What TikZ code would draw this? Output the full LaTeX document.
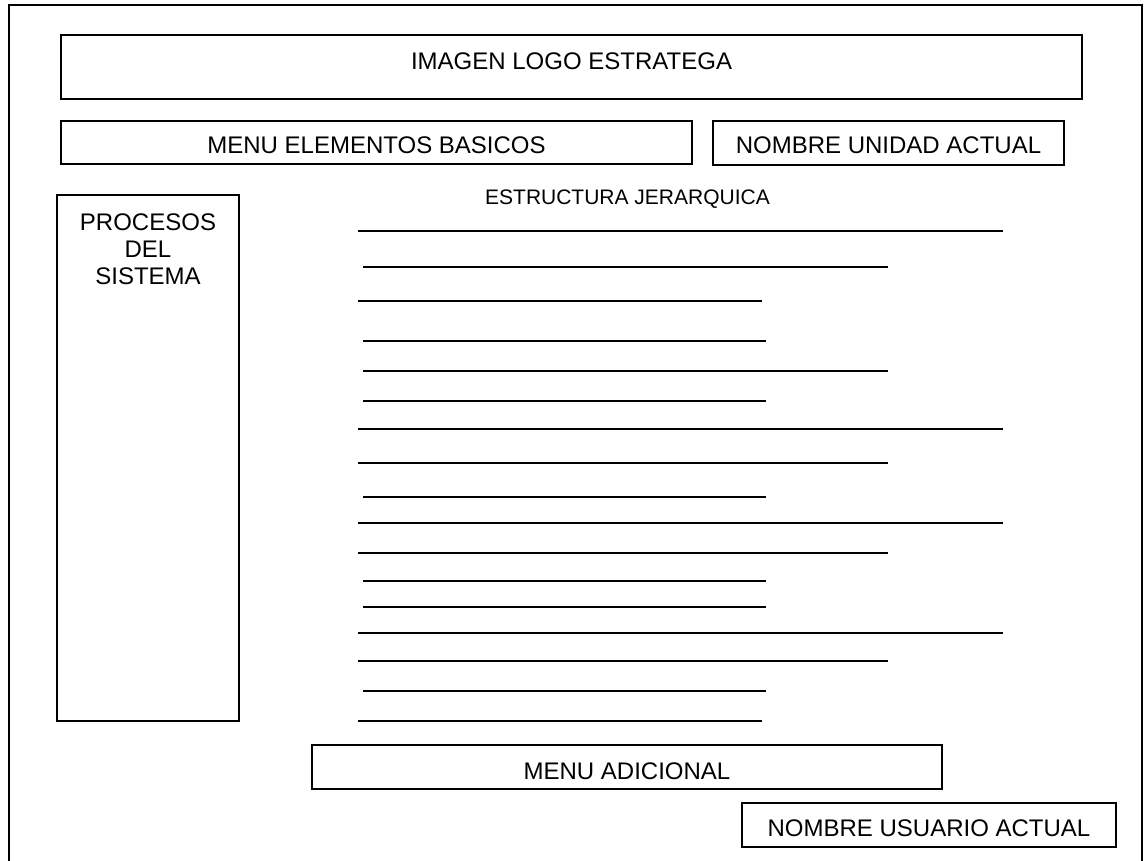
\documentclass[tikz,border=0pt]{standalone}
\usepackage{fontspec}
\setmainfont{Liberation Sans}
\begin{document}
\begin{tikzpicture}[x=1pt,y=-1pt]
\tikzset{
  box/.style={draw, line width=1.8pt, inner sep=0pt, outer sep=0pt},
  lbl/.style={font=\fontsize{24}{27}\selectfont, inner sep=0pt, outer sep=0pt},
  smalllbl/.style={font=\fontsize{21}{24}\selectfont, inner sep=0pt, outer sep=0pt},
  hline/.style={line width=2pt},
  frameline/.style={line width=2pt},
}
\useasboundingbox (0,0) rectangle (1145,860);
\draw[frameline] (9,862) -- (9,5) -- (1142,5) -- (1142,862);

\node[box, minimum width=1021pt, minimum height=64pt,
  label={[lbl,yshift=6pt]center:IMAGEN LOGO ESTRATEGA}] (logo) at (571.5,67) {};
\node[box, minimum width=631pt, minimum height=43pt,
  label={[lbl,yshift=-3pt]center:MENU ELEMENTOS BASICOS}] (menu) at (376.5,142.5) {};
\node[box, minimum width=351pt, minimum height=44pt,
  label={[lbl,yshift=-2.5pt]center:NOMBRE UNIDAD ACTUAL}] (unidad) at (888.5,143) {};
\node[box, minimum width=182pt, minimum height=526pt,
  label={[lbl,align=center,anchor=north,yshift=-19pt]north:PROCESOS\\DEL\\SISTEMA}] (procesos) at (148,458) {};
\node[smalllbl] (estructura) at (627.5,199) {ESTRUCTURA JERARQUICA};
\node[box, minimum width=630pt, minimum height=44pt,
  label={[lbl,yshift=-4pt]center:MENU ADICIONAL}] (adicional) at (627,767) {};
\node[box, minimum width=374pt, minimum height=44pt,
  label={[lbl,yshift=-3pt]center:NOMBRE USUARIO ACTUAL}] (usuario) at (929,825) {};

\foreach \yy/\xa/\xb in {231/358/1003, 267/363/888, 301/358/762, 341/363/766,
  371/363/888, 401/363/766, 429/358/1003, 463/358/888, 497/363/766,
  523/358/1003, 553/358/888, 581/363/766, 607/363/766, 633/358/1003,
  661/358/888, 691/363/766, 721/358/762}
  \draw[hline] (\xa,\yy) -- (\xb,\yy);
\end{tikzpicture}
\end{document}
